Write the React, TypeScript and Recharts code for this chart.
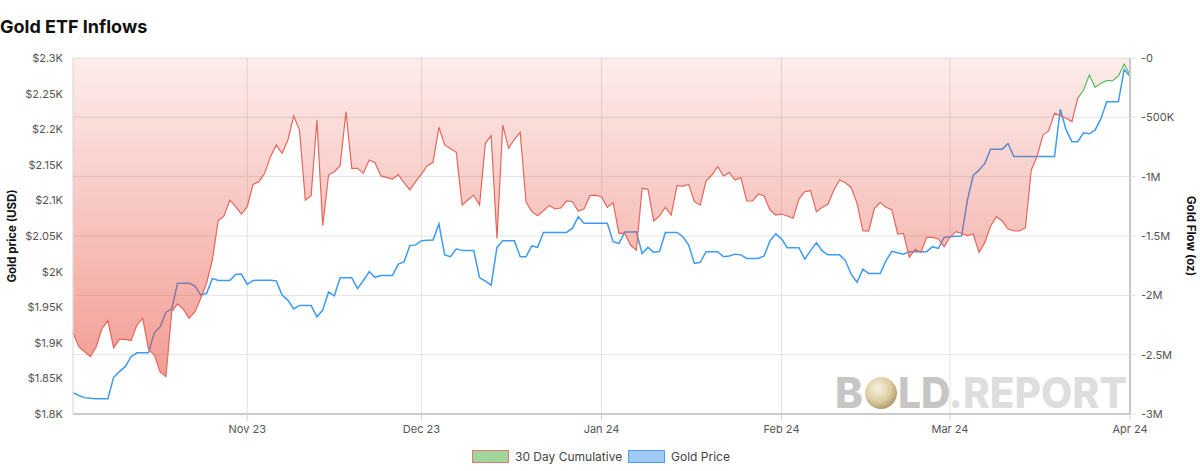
import React from 'react';
import { ComposedChart, Area, Line, XAxis, YAxis, CartesianGrid } from 'recharts';

// ---- data (daily, starting 2 Oct 2023) ----
const START = Date.UTC(2023, 9, 2);
const DAY = 86400000;

const goldPrice = [
  1830, 1826, 1823, 1822, 1821.5, 1821.5, 1821.5, 1851.5, 1859.5, 1866.5,
  1880.5, 1886, 1886, 1886, 1914, 1922.5, 1943, 1947.5, 1983.5, 1983.5,
  1983.5, 1980, 1967, 1969.5, 1990.5, 1987.5, 1987.5, 1987.5, 1996, 1996.5,
  1982, 1987.5, 1988, 1988, 1988, 1987, 1967, 1960, 1947.5, 1952.5,
  1952.5, 1952.5, 1936.5, 1946, 1971.5, 1966, 1991.5, 1991.5, 1991.5, 1976,
  1987.5, 2000, 1992, 1994.5, 1994.5, 1994.5, 2010.5, 2013.5, 2036.5, 2037.5,
  2043.5, 2044, 2044.5, 2067, 2023.5, 2021, 2032, 2029.5, 2029.5, 2029.5,
  1991.5, 1986.5, 1981, 2034, 2043.5, 2043.5, 2043.5, 2021, 2021, 2036,
  2034, 2055, 2055, 2055, 2055, 2055, 2061, 2077, 2068, 2068,
  2068, 2068, 2068, 2042, 2039.5, 2055.5, 2055.5, 2056, 2025.5, 2034,
  2027, 2028.5, 2055, 2055, 2055, 2049, 2037.5, 2011.5, 2013, 2028,
  2028, 2028, 2021, 2022, 2024.5, 2023.5, 2018.5, 2018.5, 2018.5, 2022,
  2043, 2053, 2046, 2033.5, 2033.5, 2033.5, 2017.5, 2029.5, 2040.5, 2029,
  2023.5, 2023.5, 2023.5, 2015.5, 1996, 1985, 2003.5, 1997.5, 1997.5, 1997.5,
  2015.5, 2028.5, 2026.5, 2024.5, 2028, 2028, 2028, 2028, 2035, 2032.5,
  2048, 2049, 2049.5, 2050, 2100.5, 2135, 2142.5, 2152, 2172, 2172,
  2172, 2180, 2161.5, 2161.5, 2161.5, 2161.5, 2161.5, 2161.5, 2161.5, 2161.5,
  2228, 2199, 2182.5, 2182.5, 2195, 2193.5, 2199, 2215, 2238.5, 2238.5,
  2238.5, 2284, 2274,
];

// 30 day cumulative flow, thousands of oz
const flowK = [
  -2315, -2433, -2475, -2517, -2433, -2278, -2214, -2441, -2371, -2371,
  -2382, -2250, -2194, -2455, -2503, -2646, -2685, -2138, -2073, -2118,
  -2194, -2138, -2025, -1899, -1702, -1371, -1331, -1197, -1253, -1315,
  -1253, -1065, -1042, -972, -831, -733, -803, -691, -489, -607,
  -1197, -1160, -522, -1413, -986, -958, -907, -452, -930, -930,
  -972, -860, -882, -994, -1006, -1020, -983, -1051, -1112, -1042,
  -978, -907, -879, -584, -733, -764, -795, -1239, -1197, -1155,
  -1239, -719, -654, -1520, -565, -761, -685, -626, -1211, -1295,
  -1329, -1287, -1242, -1272, -1264, -1205, -1211, -1292, -1270, -1160,
  -1155, -1171, -1258, -1219, -1478, -1478, -1576, -1618, -1098, -1107,
  -1374, -1331, -1258, -1323, -1076, -1079, -1065, -1211, -1239, -1037,
  -986, -916, -994, -966, -1028, -1008, -1205, -1205, -1146, -1163,
  -1281, -1323, -1315, -1331, -1351, -1188, -1126, -1118, -1295, -1258,
  -1233, -1112, -1028, -1051, -1093, -1225, -1455, -1458, -1267, -1219,
  -1258, -1281, -1483, -1478, -1680, -1612, -1638, -1511, -1511, -1525,
  -1590, -1511, -1463, -1478, -1497, -1483, -1638, -1556, -1416, -1337,
  -1374, -1441, -1458, -1458, -1430, -944, -831, -649, -615, -466,
  -486, -508, -536, -340, -270, -143, -247, -213, -191, -191,
  -152, -51, -143,
];

const dates = goldPrice.map((_, i) => START + i * DAY);
const greenFromIndex = 173;

const monthTicks = [
  Date.UTC(2023, 10, 1), Date.UTC(2023, 11, 1), Date.UTC(2024, 0, 1),
  Date.UTC(2024, 1, 1), Date.UTC(2024, 2, 1), Date.UTC(2024, 3, 1),
];
const monthLabels = ['Nov 23', 'Dec 23', 'Jan 24', 'Feb 24', 'Mar 24', 'Apr 24'];

const goldTicks = [1800, 1850, 1900, 1950, 2000, 2050, 2100, 2150, 2200, 2250, 2300];
const goldTickLabels = ['$1.8K', '$1.85K', '$1.9K', '$1.95K', '$2K', '$2.05K', '$2.1K', '$2.15K', '$2.2K', '$2.25K', '$2.3K'];

const flowTicks = [-3000, -2500, -2000, -1500, -1000, -500, 0];
const flowTickLabels = ['-3M', '-2.5M', '-2M', '-1.5M', '-1M', '-500K', '-0'];

const rows = dates.map((t, i) => ({ t, gold: goldPrice[i], flow: flowK[i] }));
const greenOffset = greenFromIndex / (dates.length - 1);

const RED = '#e5665a';
const GREEN = '#5cb85c';
const BLUE = '#3d9bf4';

export default function App() {
  return (
    <div style={{ position: 'absolute', left: 0, top: 0, width: 1200, height: 471, background: '#fff', fontFamily: 'Inter, sans-serif' }}>
      <ComposedChart width={1200} height={471} data={rows} margin={{ top: 58, right: 0, bottom: 0, left: 0 }}>
        <defs>
          <linearGradient id="flowFill" x1="0" y1="0" x2="0" y2="1">
            <stop offset="0" stopColor="rgb(231,76,60)" stopOpacity={0.1} />
            <stop offset="1" stopColor="rgb(231,76,60)" stopOpacity={0.55} />
          </linearGradient>
          <linearGradient id="flowStroke" x1="0" y1="0" x2="1" y2="0">
            <stop offset={greenOffset} stopColor={RED} />
            <stop offset={greenOffset} stopColor={GREEN} />
          </linearGradient>
        </defs>
        <CartesianGrid yAxisId="flow" stroke="#e2e2e2" />
        <XAxis
          dataKey="t"
          type="number"
          domain={[dates[0], dates[dates.length - 1]]}
          ticks={monthTicks}
          interval={0}
          tickFormatter={(v: number) => monthLabels[monthTicks.indexOf(v)]}
          height={57}
          tickSize={7}
          tickMargin={4}
          axisLine={{ stroke: '#cccccc', strokeWidth: 2 }}
          tickLine={{ stroke: '#d4d4d4' }}
          tick={{ fill: '#555', fontSize: 11 }}
        />
        <YAxis
          yAxisId="gold"
          orientation="left"
          width={73}
          domain={[1800, 2300]}
          ticks={goldTicks}
          interval={0}
          tickFormatter={(v: number) => goldTickLabels[goldTicks.indexOf(v)]}
          tickLine={false}
          tickSize={0}
          tickMargin={10}
          axisLine={{ stroke: '#e2e2e2' }}
          tick={{ fill: '#555', fontSize: 11 }}
          label={{ value: 'Gold price (USD)', angle: -90, position: 'insideLeft', offset: 12, fill: '#111', fontSize: 11.5, fontWeight: 700, style: { textAnchor: 'middle' } }}
        />
        <YAxis
          yAxisId="flow"
          orientation="right"
          width={70}
          domain={[-3000, 0]}
          ticks={flowTicks}
          interval={0}
          tickFormatter={(v: number) => flowTickLabels[flowTicks.indexOf(v)]}
          tickSize={6}
          tickMargin={5}
          tickLine={{ stroke: '#e2e2e2' }}
          axisLine={{ stroke: '#c8c8c8', strokeWidth: 2 }}
          tick={{ fill: '#555', fontSize: 11 }}
          label={{ value: 'Gold Flow (oz)', angle: 90, position: 'insideRight', offset: 9, fill: '#111', fontSize: 11.5, fontWeight: 700, style: { textAnchor: 'middle' } }}
        />
        <Line
          yAxisId="gold"
          dataKey="gold"
          type="linear"
          stroke={BLUE}
          strokeWidth={1.5}
          dot={false}
          activeDot={false}
          isAnimationActive={false}
        />
        <Area
          yAxisId="flow"
          dataKey="flow"
          type="linear"
          baseValue={0}
          stroke="url(#flowStroke)"
          strokeWidth={1.2}
          fill="url(#flowFill)"
          fillOpacity={1}
          dot={false}
          activeDot={false}
          isAnimationActive={false}
          zIndex={450}
        />
      </ComposedChart>
      <svg width={1200} height={471} style={{ position: 'absolute', left: 0, top: 0, pointerEvents: 'none' }}>
        <defs>
          <radialGradient id="coin" cx="0.4" cy="0.35" r="0.7">
            <stop offset="0" stopColor="#f7f1de" />
            <stop offset="0.6" stopColor="#dccca2" />
            <stop offset="1" stopColor="#a89262" />
          </radialGradient>
        </defs>
        <text x={0} y={33} fontSize={18} fontWeight={700} fill="#111" fontFamily="Inter, sans-serif">Gold ETF Inflows</text>
        {/* watermark */}
        <g fontFamily="Inter, sans-serif" fontWeight={800} fontSize={42}>
          <text x={835} y={408} fill="#c6c6c6">B</text>
          <circle cx={881} cy={393} r={16} fill="url(#coin)" />
          <text x={898} y={408} textLength={229} lengthAdjust="spacingAndGlyphs">
            <tspan fill="#c6c6c6">LD</tspan>
            <tspan fill="#dedede">.REPORT</tspan>
          </text>
        </g>
        {/* legend */}
        <g fontFamily="Inter, sans-serif" fontSize={12} fill="#444">
          <rect x={472.5} y={450.5} width={36} height={12} fill="#9fd69b" stroke="#e8776f" strokeWidth={1} />
          <text x={515} y={460.5}>30 Day Cumulative</text>
          <rect x={628.5} y={450.5} width={36} height={12} fill="#a0c9f5" stroke="#4a9cf5" strokeWidth={1} />
          <text x={671} y={460.5}>Gold Price</text>
        </g>
      </svg>
    </div>
  );
}
